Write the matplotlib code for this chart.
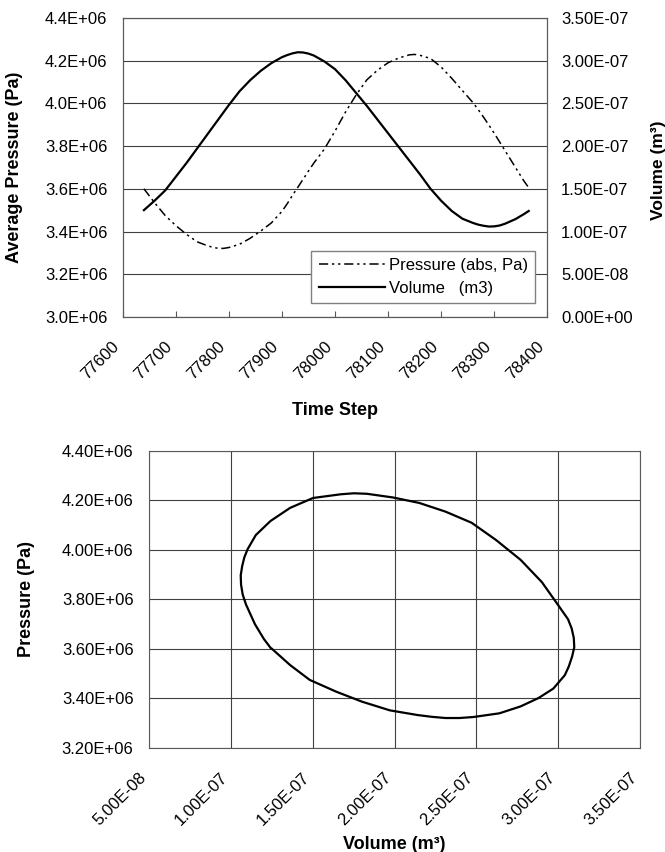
import numpy as np
import matplotlib
matplotlib.use("Agg")
import matplotlib.pyplot as plt
from matplotlib.ticker import FormatStrFormatter, MultipleLocator
from matplotlib.transforms import ScaledTranslation

plt.rcParams['font.family'] = ['Liberation Sans', 'DejaVu Sans']

# data (one cycle)
time_step = [77640, 77660, 77680, 77700, 77720, 77740, 77760, 77770, 77780,
             77790, 77800, 77820, 77840, 77860, 77880, 77900, 77910, 77920,
             77930, 77940, 77950, 77960, 77980, 78000, 78020, 78040, 78060,
             78080, 78100, 78120, 78140, 78150, 78160, 78180, 78200, 78220,
             78240, 78260, 78270, 78280, 78290, 78300, 78310, 78320, 78340,
             78355, 78365]
pressure_mpa = [3.600, 3.535, 3.475, 3.428, 3.387, 3.352, 3.333, 3.326, 3.321,
                3.321, 3.325, 3.340, 3.368, 3.402, 3.440, 3.494, 3.530, 3.570,
                3.607, 3.645, 3.683, 3.720, 3.786, 3.870, 3.960, 4.040, 4.110,
                4.155, 4.190, 4.212, 4.227, 4.229, 4.225, 4.210, 4.170, 4.117,
                4.060, 4.003, 3.970, 3.935, 3.898, 3.860, 3.820, 3.780, 3.700,
                3.640, 3.605]
volume_e7 = [1.25, 1.36, 1.48, 1.64, 1.80, 1.97, 2.14, 2.225, 2.31,
             2.395, 2.48, 2.64, 2.77, 2.88, 2.97, 3.04, 3.065, 3.085,
             3.098, 3.095, 3.082, 3.06, 2.99, 2.90, 2.77, 2.62, 2.47,
             2.31, 2.15, 1.99, 1.83, 1.75, 1.67, 1.50, 1.36, 1.24,
             1.15, 1.10, 1.08, 1.067, 1.058, 1.06, 1.07, 1.09, 1.145,
             1.20, 1.24]

pressure = np.array(pressure_mpa) * 1e6
volume = np.array(volume_e7) * 1e-7

GRID = '0.25'
SPINE = '0.35'

fig = plt.figure(figsize=(6.65, 8.52), dpi=100)


def shift_xlabels(a, dx_px):
    off = ScaledTranslation(dx_px / 100, 0, fig.dpi_scale_trans)
    for lbl in a.get_xticklabels():
        lbl.set_rotation(45)
        lbl.set_ha('right')
        lbl.set_va('top')
        lbl.set_rotation_mode('anchor')
        lbl.set_transform(lbl.get_transform() + off)


# ---- top chart: pressure and volume vs time step
ax = fig.add_axes([0.1845, 0.628, 0.6385, 0.351])
axv = ax.twinx()

l1, = ax.plot(time_step, pressure, color='black', lw=1.1,
              linestyle=(0, (6, 2.5, 1.5, 2.5, 1.5, 2.5)),
              label='Pressure (abs, Pa)')
l2, = axv.plot(time_step, volume, color='black', lw=1.6, label='Volume   (m3)')

ax.set_xlim(77600, 78400)
ax.set_ylim(3.0e6, 4.4e6)
axv.set_ylim(0, 3.5e-7)
ax.set_xticks(np.arange(77600, 78401, 100))
ax.yaxis.set_major_locator(MultipleLocator(0.2e6))
axv.yaxis.set_major_locator(MultipleLocator(5e-8))
ax.yaxis.set_major_formatter(FormatStrFormatter('%.1E'))
axv.yaxis.set_major_formatter(FormatStrFormatter('%.2E'))

ax.grid(axis='y', color=GRID, lw=0.8)
ax.set_axisbelow(True)
for a in (ax, axv):
    for s in a.spines.values():
        s.set_color(SPINE)
        s.set_linewidth(0.8)

ax.tick_params(axis='x', direction='in', length=4, pad=16, labelsize=12, color=SPINE)
ax.tick_params(axis='y', length=0, pad=11, labelsize=12)
axv.tick_params(axis='y', length=0, pad=10, labelsize=12)
shift_xlabels(ax, -11)

ax.set_ylabel('Average Pressure (Pa)', fontsize=13, fontweight='bold')
ax.yaxis.set_label_coords(-0.235, 0.5)
axv.set_ylabel('Volume (m³)', fontsize=12.5, fontweight='bold')
axv.yaxis.set_label_coords(1.245, 0.49)
ax.set_xlabel('Time Step', fontsize=13, fontweight='bold')
ax.xaxis.set_label_coords(0.5, -0.284)

leg = axv.legend(handles=[l1, l2], loc='center',
                 bbox_to_anchor=(0.446, 0.040, 0.523, 0.187),
                 fontsize=12, fancybox=False, framealpha=1, edgecolor='0.5',
                 borderpad=0.45, handlelength=4.0, handletextpad=0.2,
                 labelspacing=0.45)
leg.get_frame().set_linewidth(1.0)

# ---- bottom chart: pressure-volume loop
bx = fig.add_axes([0.2248, 0.1221, 0.7376, 0.3486])
bx.plot(volume, pressure, color='black', lw=1.6)
bx.set_xlim(5e-8, 3.5e-7)
bx.set_ylim(3.2e6, 4.4e6)
bx.xaxis.set_major_locator(MultipleLocator(5e-8))
bx.yaxis.set_major_locator(MultipleLocator(0.2e6))
bx.xaxis.set_major_formatter(FormatStrFormatter('%.2E'))
bx.yaxis.set_major_formatter(FormatStrFormatter('%.2E'))
bx.grid(True, color=GRID, lw=0.8)
bx.set_axisbelow(True)
for s in bx.spines.values():
    s.set_color(SPINE)
    s.set_linewidth(0.8)
bx.tick_params(axis='x', length=0, pad=16, labelsize=12)
bx.tick_params(axis='y', length=0, pad=11.5, labelsize=12)
shift_xlabels(bx, -11)

bx.set_ylabel('Pressure (Pa)', fontsize=13, fontweight='bold')
bx.yaxis.set_label_coords(-0.233, 0.5)
bx.set_xlabel('Volume (m³)', fontsize=13, fontweight='bold')
bx.xaxis.set_label_coords(0.5, -0.298)

fig.savefig('out.png', dpi=100)
